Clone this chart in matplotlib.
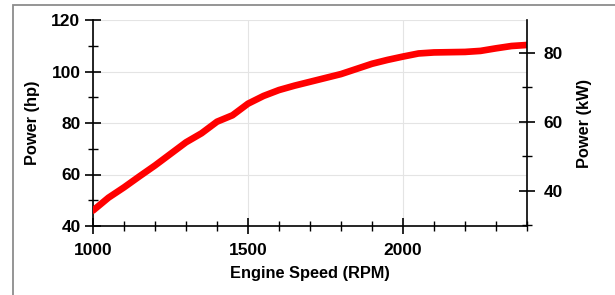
import matplotlib.pyplot as plt
from matplotlib.patches import Rectangle
from matplotlib.ticker import MultipleLocator

plt.rcParams['font.family'] = ['Liberation Sans', 'DejaVu Sans']
plt.rcParams['font.weight'] = 'bold'

# engine power curve
rpm = [1000, 1050, 1100, 1150, 1200, 1250, 1300, 1350, 1400, 1450,
       1500, 1550, 1600, 1650, 1700, 1750, 1800, 1850, 1900, 1950,
       2000, 2050, 2100, 2150, 2200, 2250, 2300, 2350, 2400]
power_hp = [46.0, 51.0, 55.0, 59.3, 63.5, 68.0, 72.5, 76.0, 80.5, 83.0,
            87.5, 90.5, 92.8, 94.5, 96.0, 97.5, 99.0, 101.0, 103.0, 104.5,
            105.8, 107.0, 107.4, 107.5, 107.6, 108.0, 109.0, 109.9, 110.3]
hp_to_kw = 0.7457

fig = plt.figure(figsize=(6.15, 2.95), dpi=100)
fig.patches.append(Rectangle((12.5 / 615, -0.1), 1.2, 1.1 - 4.5 / 295,
                             transform=fig.transFigure, fill=False,
                             edgecolor='#8c8c8c', linewidth=1.3))

ax = fig.add_axes([93 / 615, 1 - 226 / 295, (527 - 93) / 615, (226 - 20) / 295])
ax.plot(rpm, power_hp, color='#ff0000', linewidth=4.8, solid_capstyle='round', zorder=3)
ax.set_xlim(1000, 2400)
ax.set_ylim(40, 120)
ax.xaxis.set_major_locator(MultipleLocator(500))
ax.xaxis.set_minor_locator(MultipleLocator(100))
ax.yaxis.set_major_locator(MultipleLocator(20))
ax.yaxis.set_minor_locator(MultipleLocator(10))
ax.grid(True, which='major', color='#e4e4e4', linewidth=0.8)
ax.spines['top'].set_visible(False)
ax.spines['right'].set_visible(False)
for s in ['left', 'bottom']:
    ax.spines[s].set_linewidth(1.2)
ax.tick_params(which='major', direction='inout', length=12, width=1.2, labelsize=12.5, pad=3)
ax.tick_params(axis='x', which='major', pad=6)
ax.tick_params(which='minor', direction='inout', length=7, width=1.0)
ax.set_xlabel('Engine Speed (RPM)', fontsize=11.8, fontweight='bold', labelpad=6)
ax.set_ylabel('Power (hp)', fontsize=11.8, fontweight='bold', labelpad=8)

ax2 = ax.twinx()
ax2.set_ylim(40 * hp_to_kw, 120 * hp_to_kw)
ax2.yaxis.set_major_locator(MultipleLocator(20))
ax2.yaxis.set_minor_locator(MultipleLocator(10))
for s in ['top', 'left', 'bottom']:
    ax2.spines[s].set_visible(False)
ax2.spines['right'].set_linewidth(1.2)
ax2.tick_params(which='major', direction='inout', length=12, width=1.2, labelsize=12.5, pad=6)
ax2.tick_params(which='minor', direction='inout', length=7, width=1.0)
ax2.set_ylabel('Power (kW)', fontsize=11.8, fontweight='bold', labelpad=10)

fig.savefig('out.png', dpi=100)
